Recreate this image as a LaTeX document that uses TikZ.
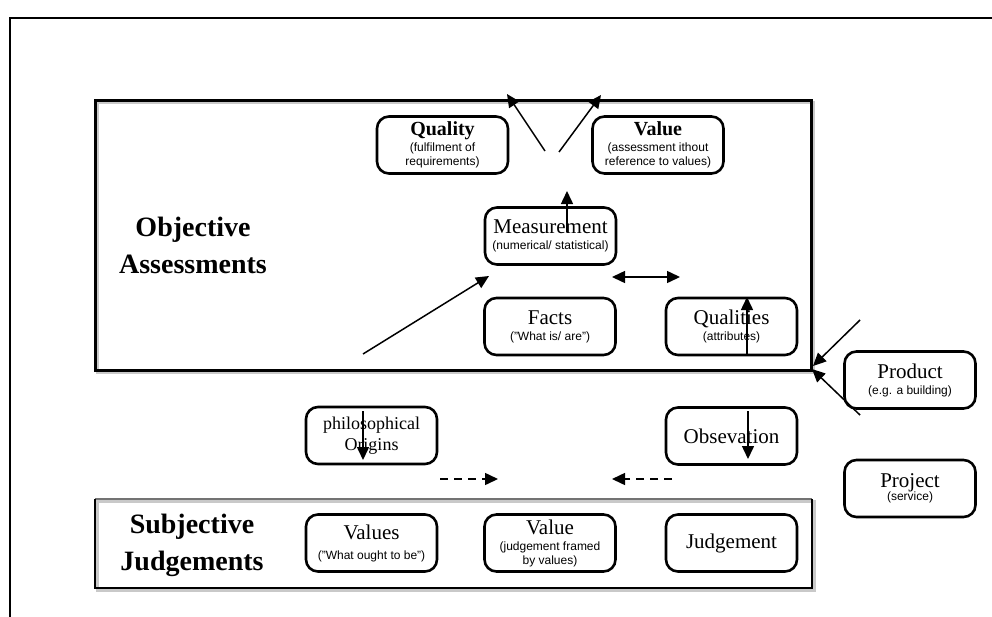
\documentclass[tikz,border=0pt]{standalone}
\usepackage{fontspec}
\setmainfont{Liberation Serif}
\setsansfont{Liberation Sans}
\usetikzlibrary{arrows.meta}

\newcommand{\subt}[1]{{\sffamily\fontsize{12}{14}\selectfont #1}}
\newcommand{\ttl}[1]{{\fontsize{21}{21}\selectfont #1}}
\newcommand{\bttl}[1]{{\bfseries\fontsize{20}{20}\selectfont #1}}

\begin{document}
\begin{tikzpicture}[x=1pt,y=-1pt,
  box/.style={draw, line width=2.6pt, rounded corners=12pt,
    minimum width=131pt, minimum height=57pt, inner sep=0pt,
    align=center, font=\fontsize{21}{16}\selectfont},
  heading/.style={align=center, font=\bfseries\fontsize{28}{37}\selectfont},
  arr/.style={line width=1.5pt, -{Triangle[length=13pt,width=12pt]}},
  darr/.style={line width=1.5pt, {Triangle[length=13pt,width=12pt]}-{Triangle[length=13pt,width=12pt]}},
  dasharr/.style={arr, dash pattern=on 8pt off 6pt},
  panel/.style={draw, line width=3pt, line join=miter},
  panelshadow/.style={draw=black!35, line width=3pt, opacity=0.6}
]
\useasboundingbox (0,0) rectangle (992,616);
\clip (0,0) rectangle (992,616);
\fill[white] (0,0) rectangle (992,616);

% outer frame, running off the right and bottom edges
\draw[line width=1.3pt] (10,640) -- (10,18) -- (1010,18);

% objective assessments panel
\draw[panelshadow] (97.5,102.5) rectangle (813.5,372.5);
\draw[panel] (95,100) rectangle (811,370);

% subjective judgements panel
\draw[panelshadow] (97.5,501.5) rectangle (814.5,590.5);
\draw[black!55, line width=2pt] (95,499) -- (812,499);
\draw[line width=2.6pt, line join=miter] (95,499) -- (95,588) -- (812,588) -- (812,499);

% panel headings
\node[heading] (objh) at (193,245) {Objective\\Assessments};
\node[heading] (subjh) at (192,545) {Subjective\\Judgements};

% objective nodes
\node[box] (quality) at (442.5,145) {\bttl{Quality}\\\subt{(fulfilment of}\\[-2pt]\subt{requirements)}};
\node[box] (valueA) at (658,145) {\bttl{Value}\\\subt{(assessment ithout}\\[-2pt]\subt{reference to values)}};
\node[box] (measure) at (550.5,236) {\ttl{Measurement}\\\subt{(numerical/ statistical)}};
\node[box] (facts) at (550,326.5) {\ttl{Facts}\\\subt{("What is/ are")}};
\node[box] (qualities) at (731.5,326.5) {\ttl{Qualities}\\\subt{(attributes)}};

% outside nodes
\node[box] (product) at (910,380) {\ttl{Product}\\\subt{(e.g. a building)}};
\node[box] (project) at (910,488.5) {\ttl{Project}\\[-3pt]\subt{(service)}};
\node[box, font=\fontsize{18}{21}\selectfont] (philo) at (371.5,435.5) {philosophical\\Origins};
\node[box] (obs) at (731.5,436) {\ttl{Obsevation}};

% subjective nodes
\node[box] (values) at (371.5,543) {\ttl{Values}\\[4pt]\subt{("What ought to be")}};
\node[box] (valueB) at (550,543) {\ttl{Value}\\\subt{(judgement framed}\\[-2pt]\subt{by values)}};
\node[box] (judge) at (731.5,543) {\ttl{Judgement}};

% connector end points
\coordinate (qa) at (545,151);   \coordinate (qb) at (507,94);
\coordinate (va) at (559,152);   \coordinate (vb) at (601,95);
\coordinate (ma) at (567,232);   \coordinate (mb) at (567,191);
\coordinate (da) at (363,354);   \coordinate (db) at (489,276);
\coordinate (ha) at (612,277);   \coordinate (hb) at (680,277);
\coordinate (ua) at (747,354);   \coordinate (ub) at (747,297);
\coordinate (pa) at (860,320);   \coordinate (pb) at (813,366);
\coordinate (pc) at (860,415);   \coordinate (pd) at (812,369);
\coordinate (oa) at (363,411);   \coordinate (ob) at (363,460);
\coordinate (sa) at (748,411);   \coordinate (sb) at (748,459);
\coordinate (la) at (440,479);   \coordinate (lb) at (498,479);
\coordinate (ra) at (672,479);   \coordinate (rb) at (612,479);

% connectors
\draw[arr] (qa) -- (qb);
\draw[arr] (va) -- (vb);
\draw[arr] (ma) -- (mb);
\draw[arr] (da) -- (db);
\draw[darr] (ha) -- (hb);
\draw[arr] (ua) -- (ub);
\draw[arr] (pa) -- (pb);
\draw[arr] (pc) -- (pd);
\draw[arr] (oa) -- (ob);
\draw[arr] (sa) -- (sb);
\draw[dasharr] (la) -- (lb);
\draw[dasharr] (ra) -- (rb);
\end{tikzpicture}
\end{document}
